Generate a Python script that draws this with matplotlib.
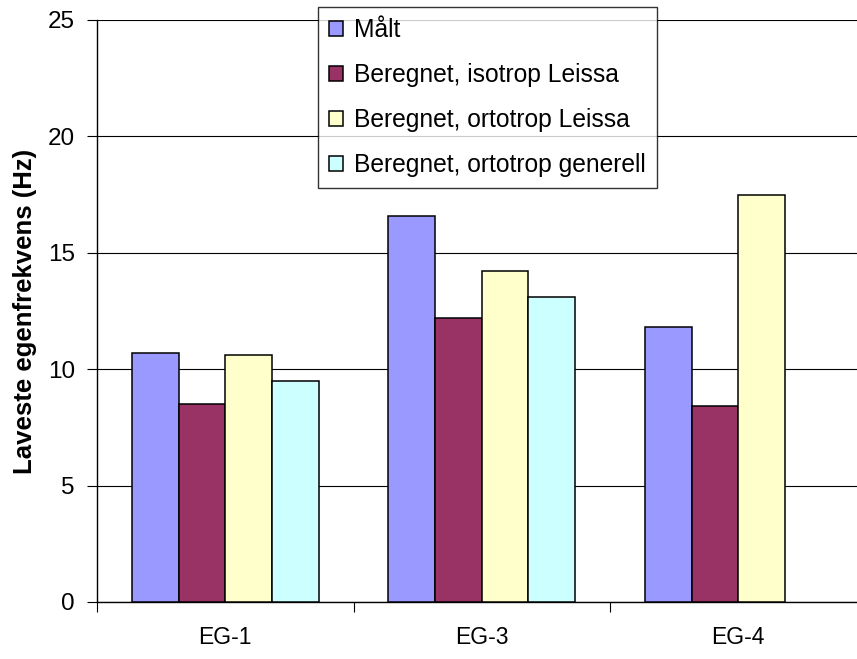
import numpy as np
import matplotlib
matplotlib.use("Agg")
import matplotlib.pyplot as plt

categories = ["EG-1", "EG-3", "EG-4"]
series_names = [
    "Målt",
    "Beregnet, isotrop Leissa",
    "Beregnet, ortotrop Leissa",
    "Beregnet, ortotrop generell",
]
maalt = [10.7, 16.6, 11.8]
isotrop_leissa = [8.5, 12.2, 8.4]
ortotrop_leissa = [10.6, 14.2, 17.5]
ortotrop_generell = [9.5, 13.1, np.nan]
colors = ["#9999FF", "#993366", "#FFFFCC", "#CCFFFF"]
y_ticks = [0, 5, 10, 15, 20, 25]

plt.rcParams["font.family"] = ["Liberation Sans", "DejaVu Sans"]

fig = plt.figure(figsize=(8.57, 6.59), dpi=100)
ax = fig.add_axes([97 / 857, 1 - 602 / 659, 769.5 / 857, 582 / 659])

x = np.arange(len(categories))
width = 1 / 5.5
all_series = [maalt, isotrop_leissa, ortotrop_leissa, ortotrop_generell]
for j, (vals, name, col) in enumerate(zip(all_series, series_names, colors)):
    ax.bar(x + (j - 1.5) * width, vals, width, color=col, edgecolor="black",
           linewidth=1.1, label=name, zorder=3)

ax.set_xlim(-0.5, len(categories) - 0.5)
ax.set_ylim(0, 25)
ax.set_yticks(y_ticks)
ax.yaxis.grid(True, color="black", linewidth=0.8, zorder=0)
ax.set_axisbelow(True)

ax.set_xticks(x)
ax.set_xticklabels(categories)
ax.set_xticks(np.arange(len(categories)) - 0.5, minor=True)
ax.tick_params(axis="x", which="major", length=0, pad=17, labelsize=16.5)
ax.tick_params(axis="x", which="minor", length=7, width=0.8, direction="out")
ax.tick_params(axis="y", length=7, width=0.8, direction="out", pad=9, labelsize=17.5)

for side in ("top", "right"):
    ax.spines[side].set_visible(False)
for side in ("left", "bottom"):
    ax.spines[side].set_linewidth(1.0)

ax.set_ylabel("Laveste egenfrekvens (Hz)", fontsize=18.5, fontweight="bold", labelpad=8)

leg = ax.legend(loc="upper left", bbox_to_anchor=(318 / 857, 1 - 7 / 659),
                bbox_transform=fig.transFigure, borderaxespad=0,
                frameon=True, fancybox=False, fontsize=17.7,
                handlelength=0.57, handleheight=0.57, handletextpad=0.45,
                labelspacing=0.85, borderpad=0.45)
leg.get_frame().set_edgecolor("black")
leg.get_frame().set_linewidth(1.0)
leg.set_zorder(5)

fig.savefig("out.png", dpi=100)
